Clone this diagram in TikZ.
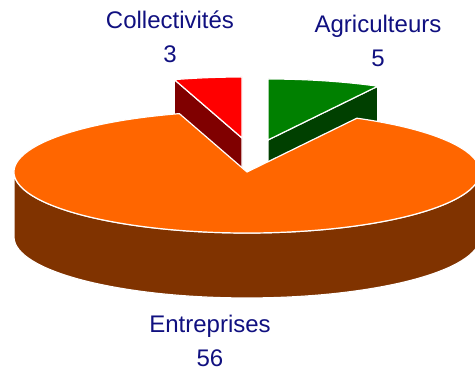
\documentclass[tikz,border=0pt]{standalone}
\usepackage{fontspec}
\setmainfont{Liberation Sans}
\usetikzlibrary{calc}
\definecolor{labelblue}{RGB}{16,16,128}
\definecolor{entrtop}{RGB}{255,102,0}
\definecolor{entrside}{RGB}{128,51,0}
\definecolor{colltop}{RGB}{255,0,0}
\definecolor{collside}{RGB}{128,0,0}
\definecolor{agritop}{RGB}{0,128,0}
\definecolor{agriside}{RGB}{0,64,0}
\tikzset{face/.style = {draw=white, line width=1.2pt, line join=round},
         lbl/.style = {text=labelblue, align=center, anchor=base, inner sep=0pt,
                       font=\fontsize{24}{34}\selectfont}}

\begin{document}
\begin{tikzpicture}[x=1pt, y=1pt]
      \useasboundingbox (0, 0) rectangle (475, 372);
      \clip (0, 0) rectangle (475, 372);

      \coordinate (E) at (247, 200);
      \coordinate (C) at (242, 234);
      \coordinate (A) at (268, 232);

      % Collectivites, pulled out to the back
      \path [face, fill=collside] (C) -- ++(106.875:233 and 61) -- ++(0, -65) -- ($(C) + (0, -65)$) -- cycle;
      \path [face, fill=colltop] (C) -- ++(106.875:233 and 61)
            arc [start angle=106.875, end angle=90, x radius=233, y radius=61] -- cycle;

      % Agriculteurs
      \path [face, fill=agriside] (A) -- ++(61.875:233 and 61) -- ++(0, -65) -- ($(A) + (0, -65)$) -- cycle;
      \path [face, fill=agritop] (A) -- ++(61.875:233 and 61)
            arc [start angle=61.875, end angle=90, x radius=233, y radius=61] -- cycle;

      % Entreprises
      \path [face, fill=entrside] ($(E) + (180:233 and 61)$) -- ++(0, -65)
            arc [start angle=180, end angle=360, x radius=233, y radius=61] -- ++(0, 65)
            arc [start angle=360, end angle=180, x radius=233, y radius=61] -- cycle;
      \path [face, fill=entrtop] (E) -- ++(106.875:233 and 61)
            arc [start angle=106.875, end angle=421.875, x radius=233, y radius=61] -- cycle;

      % base anchor sits on the last line
      \node [lbl] (coll) at (170, 309) {Collectivités\\3};
      \node [lbl] (agri) at (378, 305) {Agriculteurs\\5};
      \node [lbl] (entr) at (210, 5) {Entreprises\\56};
    \end{tikzpicture}
\end{document}
